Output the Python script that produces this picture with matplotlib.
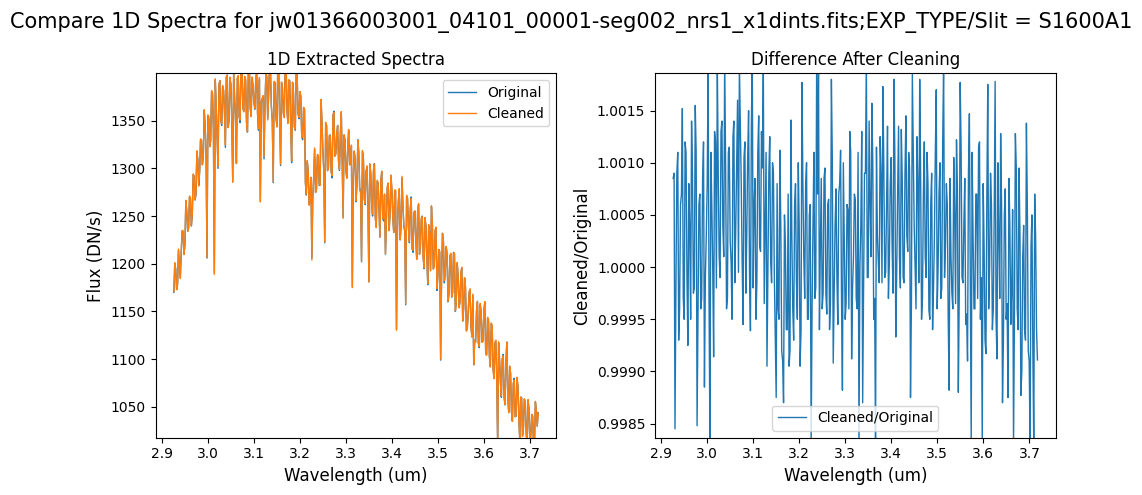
import numpy as np
import matplotlib
matplotlib.use("Agg")
import matplotlib.pyplot as plt

# wavelength grid end points (um)
wave_start = 2.9264
wave_end = 3.7174

# original extracted flux (DN/s) (every other pixel)
flux_orig = [
    1170, 1195, 1178, 1200, 1212, 1233, 1220, 1255, 1238, 1268,
    1250, 1292, 1272, 1310, 1296, 1330, 1312, 1345, 1206, 1352,
    1330, 1378, 1190, 1365, 1300, 1392, 1345, 1382, 1322, 1398,
    1350, 1388, 1286, 1375, 1305, 1395, 1348, 1405, 1360, 1392,
    1338, 1410, 1355, 1386, 1362, 1402, 1340, 1265, 1372, 1310,
    1398, 1352, 1408, 1365, 1285, 1390, 1345, 1402, 1303, 1385,
    1355, 1410, 1348, 1392, 1306, 1380, 1340, 1398, 1352, 1376,
    1330, 1362, 1272, 1298, 1265, 1206, 1290, 1275, 1312, 1282,
    1372, 1318, 1222, 1345, 1300, 1335, 1290, 1360, 1315, 1345,
    1298, 1358, 1249, 1330, 1290, 1340, 1305, 1176, 1318, 1265,
    1330, 1280, 1202, 1312, 1262, 1300, 1181, 1295, 1250, 1305,
    1240, 1285, 1228, 1296, 1245, 1210, 1280, 1235, 1292, 1248,
    1275, 1131, 1265, 1225, 1290, 1240, 1157, 1268, 1222, 1270,
    1212, 1255, 1205, 1262, 1218, 1250, 1195, 1240, 1178, 1232,
    1260, 1195, 1235, 1172, 1215, 1099, 1232, 1180, 1218, 1160,
    1208, 1165, 1212, 1150, 1200, 1155, 1190, 1140, 1185, 1130,
    1150, 1172, 1125, 1094, 1118, 1160, 1112, 1150, 1120, 1160,
    1105, 1140, 1092, 1135, 1080, 1118, 1010, 1100, 1060, 1105,
    1052, 1118, 1045, 1085, 1035, 1080, 1040, 1072, 1015, 1060,
    1028, 1055, 1010, 1048, 1020, 1040, 1012, 1046, 1044,
]

# flux at the pixels in between
flux_mid = [
    1200, 1173, 1214, 1185, 1234, 1210, 1265, 1234, 1270, 1240,
    1293, 1267, 1317, 1282, 1330, 1304, 1360, 1318, 1355, 1323,
    1380, 1340, 1392, 1332, 1387, 1350, 1385, 1360, 1395, 1343,
    1394, 1347, 1400, 1350, 1394, 1354, 1413, 1363, 1395, 1348,
    1403, 1363, 1394, 1370, 1392, 1357, 1393, 1370, 1375, 1366,
    1396, 1377, 1402, 1350, 1390, 1354, 1410, 1350, 1390, 1358,
    1406, 1360, 1392, 1345, 1390, 1344, 1405, 1358, 1380, 1333,
    1363, 1285, 1307, 1262, 1290, 1270, 1320, 1278, 1313, 1283,
    1348, 1297, 1347, 1298, 1334, 1297, 1355, 1313, 1335, 1308,
    1336, 1307, 1334, 1298, 1322, 1304, 1323, 1290, 1310, 1283,
    1316, 1275, 1317, 1268, 1297, 1262, 1303, 1263, 1297, 1248,
    1286, 1257, 1287, 1248, 1272, 1244, 1283, 1253, 1277, 1233,
    1276, 1235, 1277, 1240, 1260, 1234, 1270, 1238, 1257, 1216,
    1253, 1225, 1254, 1210, 1247, 1207, 1247, 1206, 1240, 1193,
    1240, 1197, 1237, 1188, 1212, 1187, 1223, 1190, 1210, 1168,
    1210, 1170, 1210, 1160, 1187, 1160, 1195, 1153, 1175, 1133,
    1170, 1133, 1167, 1120, 1150, 1117, 1157, 1118, 1150, 1106,
    1143, 1103, 1137, 1090, 1117, 1080, 1117, 1076, 1100, 1060,
    1098, 1060, 1092, 1045, 1074, 1040, 1080, 1038, 1060, 1020,
    1058, 1023, 1057, 1012, 1042, 1010, 1055, 1030,
]

# cleaned / original
ratio = [
    1.00085, 0.99845, 1.00090, 0.99930, 1.00060, 1.00152, 0.99950, 1.00110, 0.99925, 1.00040,
    1.00140, 0.99975, 1.00155, 0.99848, 1.00060, 0.99960, 1.00085, 0.99885, 1.00030, 1.00190,
    0.99830, 1.00060, 0.99914, 1.00120, 1.00195, 1.00010, 1.00130, 1.00040, 1.00200, 0.99960,
    1.00110, 1.00025, 0.99950, 1.00140, 1.00035, 1.00160, 1.00195, 1.00080, 0.99945, 1.00120,
    1.00030, 1.00150, 0.99939, 1.00200, 1.00060, 0.99950, 1.00110, 1.00020, 1.00130, 1.00195,
    1.00040, 0.99905, 1.00090, 1.00005, 1.00100, 0.99990, 0.99875, 0.99960, 1.00112, 0.99920,
    0.99870, 1.00020, 0.99940, 0.99905, 1.00141, 0.99960, 1.00060, 0.99985, 1.00100, 0.99905,
    1.00177, 1.00010, 1.00080, 0.99950, 1.00050, 0.99830, 1.00040, 0.99970, 1.00195, 1.00190,
    1.00020, 0.99960, 1.00085, 0.99975, 1.00060, 0.99940, 1.00180, 0.99908, 1.00040, 0.99990,
    1.00070, 1.00112, 0.99882, 1.00025, 0.99965, 1.00055, 1.00130, 0.99912, 1.00010, 1.00065,
    0.99960, 0.99830, 1.00040, 0.99870, 1.00090, 1.00200, 0.99990, 1.00060, 1.00157, 0.99950,
    0.99830, 1.00030, 0.99985, 1.00090, 1.00173, 0.99990, 1.00060, 0.99970, 1.00080, 1.00020,
    1.00180, 0.99933, 1.00070, 1.00010, 1.00132, 0.99990, 1.00090, 1.00030, 1.00110, 0.99875,
    1.00185, 1.00040, 0.99960, 1.00080, 1.00180, 0.99950, 1.00070, 1.00010, 1.00110, 0.99959,
    1.00060, 0.99940, 1.00030, 1.00170, 1.00000, 1.00100, 0.99980, 1.00195, 1.00020, 1.00060,
    0.99882, 1.00010, 0.99960, 1.00050, 1.00122, 0.99880, 1.00177, 0.99990, 1.00040, 0.99945,
    0.99910, 1.00147, 0.99830, 1.00030, 0.99960, 1.00070, 1.00115, 0.99950, 0.99830, 1.00020,
    0.99917, 1.00175, 1.00000, 1.00060, 0.99960, 1.00178, 0.99912, 1.00030, 1.00128, 0.99870,
    1.00050, 0.99950, 0.99875, 1.00040, 0.99980, 0.99830, 1.00128, 0.99960, 1.00095, 0.99877,
    1.00010, 0.99940, 1.00138, 0.99920, 0.99830, 1.00050, 0.99830, 1.00030, 0.99911,
]

# ratio at the pixels in between
ratio_mid = [
    1.00090, 0.99980, 1.00110, 0.99960, 1.00070, 0.99970, 1.00120, 0.99990, 1.00080, 0.99950,
    1.00090, 0.99980, 1.00110, 0.99960, 1.00070, 0.99970, 1.00120, 0.99990, 1.00080, 0.99970,
    1.00110, 1.00000, 1.00130, 0.99980, 1.00090, 0.99990, 1.00140, 1.00010, 1.00100, 0.99970,
    1.00115, 1.00005, 1.00125, 0.99985, 1.00095, 0.99995, 1.00135, 1.00005, 1.00105, 0.99975,
    1.00105, 0.99995, 1.00135, 0.99980, 1.00085, 0.99985, 1.00145, 1.00015, 1.00095, 0.99965,
    1.00110, 1.00000, 1.00125, 0.99985, 1.00090, 0.99930, 1.00080, 0.99950, 1.00040, 0.99910,
    1.00050, 0.99940, 1.00070, 0.99920, 1.00030, 0.99930, 1.00080, 0.99950, 1.00040, 0.99940,
    1.00080, 0.99970, 1.00100, 0.99950, 1.00060, 0.99960, 1.00110, 0.99980, 1.00070, 0.99940,
    1.00085, 0.99975, 1.00095, 0.99955, 1.00065, 0.99965, 1.00105, 0.99975, 1.00075, 0.99945,
    1.00080, 0.99970, 1.00100, 0.99950, 1.00060, 0.99960, 1.00110, 0.99980, 1.00070, 0.99970,
    1.00110, 1.00000, 1.00130, 0.99980, 1.00090, 0.99990, 1.00140, 1.00010, 1.00100, 0.99970,
    1.00115, 1.00005, 1.00125, 0.99985, 1.00095, 0.99995, 1.00135, 1.00005, 1.00105, 0.99975,
    1.00105, 0.99995, 1.00135, 0.99980, 1.00085, 0.99985, 1.00145, 1.00015, 1.00095, 0.99965,
    1.00110, 1.00000, 1.00125, 0.99985, 1.00090, 0.99970, 1.00120, 0.99990, 1.00080, 0.99950,
    1.00090, 0.99980, 1.00110, 0.99960, 1.00070, 0.99970, 1.00120, 0.99990, 1.00080, 0.99950,
    1.00085, 0.99975, 1.00105, 0.99965, 1.00075, 0.99975, 1.00115, 0.99985, 1.00085, 0.99955,
    1.00090, 0.99980, 1.00110, 0.99960, 1.00070, 0.99970, 1.00120, 0.99990, 1.00080, 0.99930,
    1.00070, 0.99960, 1.00090, 0.99940, 1.00050, 0.99950, 1.00100, 0.99970, 1.00060, 0.99930,
    1.00075, 0.99965, 1.00085, 0.99945, 1.00055, 0.99955, 1.00095, 0.99940, 1.00030, 0.99900,
    1.00040, 0.99930, 1.00060, 0.99910, 1.00020, 0.99920, 1.00070, 0.99940,
]

# interleave the two sets of readings onto one wavelength grid
n = len(flux_orig)
flux = np.empty(2 * n - 1)
flux[0::2] = flux_orig
flux[1::2] = flux_mid
frac = np.empty(2 * n - 1)
frac[0::2] = ratio
frac[1::2] = ratio_mid

wave = np.linspace(wave_start, wave_end, len(flux))
flux_clean = flux * frac

title = "Compare 1D Spectra for jw01366003001_04101_00001-seg002_nrs1_x1dints.fits;EXP_TYPE/Slit = S1600A1"

fig, (ax1, ax2) = plt.subplots(1, 2, figsize=(11.42, 4.95), dpi=100)
fig.subplots_adjust(left=0.1363, right=0.9244, top=0.852, bottom=0.116, wspace=0.246)
fig.suptitle(title, fontsize=15, y=0.975)

# left panel: both spectra
ax1.plot(wave, flux, lw=1, label="Original")
ax1.plot(wave, flux_clean, lw=1, label="Cleaned")
ax1.set_ylim(1017.8, 1399.7)
ax1.set_title("1D Extracted Spectra")
ax1.set_xlabel("Wavelength (um)", fontsize=12)
ax1.set_ylabel("Flux (DN/s)", fontsize=12)
ax1.legend(loc="upper right")

# right panel: ratio
ax2.plot(wave, frac, lw=1, label="Cleaned/Original")
ax2.set_ylim(0.998366, 1.001858)
ax2.set_title("Difference After Cleaning")
ax2.set_xlabel("Wavelength (um)", fontsize=12)
ax2.set_ylabel("Cleaned/Original", fontsize=12)
ax2.legend(loc="lower center")

plt.savefig("out.png", dpi=100)
